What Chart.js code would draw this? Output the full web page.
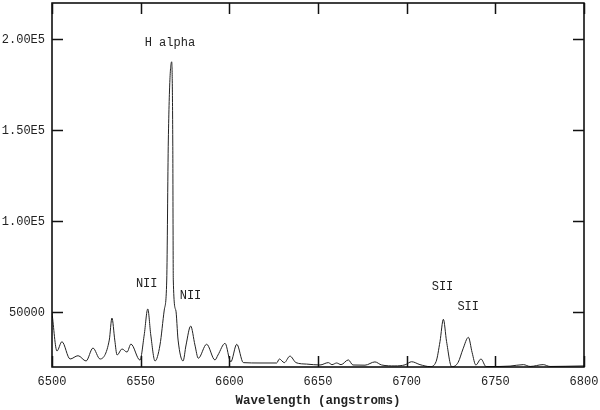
<!DOCTYPE html>
<html>
<head>
<meta charset="utf-8">
<script src="https://cdn.jsdelivr.net/npm/chart.js@4/dist/chart.umd.min.js"></script>
<style>
  html, body { margin: 0; padding: 0; background: #fff; }
  #wrap { width: 600px; height: 410px; }
</style>
</head>
<body>
<div id="wrap"><canvas id="c"></canvas></div>
<script>
// Wavelength (angstroms) and flux values
const wavelengths = [
  6500.0, 6502.8, 6505.6, 6510.2, 6514.7, 6519.2, 6523.1, 6527.1, 6532.3, 6533.8,
  6535.4, 6536.7, 6539.5, 6542.3, 6544.5, 6549.6, 6552.0, 6554.0, 6555.7, 6558.1,
  6560.9, 6563.3, 6564.7, 6565.6, 6567.5, 6568.1, 6568.4, 6569.8, 6571.1, 6573.9,
  6575.6, 6578.2, 6580.6, 6582.5, 6587.2, 6591.9, 6593.6, 6597.6, 6600.8, 6604.2,
  6607.9, 6617.3, 6626.7, 6628.2, 6631.0, 6634.2, 6637.6, 6643.6, 6651.1, 6655.8,
  6657.9, 6660.5, 6663.0, 6667.1, 6669.7, 6676.5, 6682.1, 6685.9, 6693.4, 6699.1,
  6702.8, 6707.5, 6713.2, 6716.6, 6718.8, 6720.7, 6722.5, 6725.4, 6729.0, 6731.8,
  6734.8, 6736.9, 6739.0, 6741.9, 6744.8, 6752.6, 6758.3, 6765.8, 6769.6, 6777.0,
  6780.8, 6789.3, 6800.0
];
const flux = [
  49700, 28800, 33900, 24400, 26200, 23300, 30400, 24400, 34800, 46900,
  34800, 26600, 29900, 28200, 32600, 23800, 37600, 51900, 37600, 23300,
  32100, 51300, 67800, 144700, 187700, 144700, 67800, 51300, 34800, 23300,
  32100, 42500, 32100, 24800, 32500, 23850, 26600, 33000, 22800, 32500,
  22400, 22200, 22200, 24400, 22400, 26000, 22400, 21600, 21100, 22400,
  21300, 22200, 21300, 23900, 21100, 21000, 22800, 21100, 20600, 21200,
  22900, 21300, 20200, 23000, 34000, 46200, 34000, 20100, 22500, 30000,
  36300, 28000, 21100, 24400, 20200, 20300, 20500, 21300, 20300, 21300,
  20300, 20400, 20600
];

const xTickValues = [6500, 6550, 6600, 6650, 6700, 6750, 6800];
const yTickValues = [50000, 100000, 150000, 200000];
const yTickLabels = ["50000", "1.00E5", "1.50E5", "2.00E5"];

const lineLabels = ["H alpha", "NII", "NII", "SII", "SII"];
const lineLabelX = [6566.5, 6553.4, 6578.1, 6720.2, 6734.7];
const lineLabelY = [198200, 65600, 59000, 64100, 53100];

const xTitle = "Wavelength (angstroms)";

const FONT = "'Liberation Mono', 'DejaVu Sans Mono', monospace";

const framePlugin = {
  id: 'frame',
  afterDraw(chart) {
    const { ctx, chartArea: a, scales } = chart;
    const xs = scales.x, ys = scales.y;
    ctx.save();
    ctx.strokeStyle = '#000';
    ctx.lineWidth = 1.5;
    ctx.strokeRect(a.left, a.top, a.right - a.left, a.bottom - a.top);
    ctx.lineWidth = 1.5;
    ctx.strokeStyle = '#111';
    const tl = 11;
    ctx.beginPath();
    xTickValues.forEach(v => {
      const px = Math.round(xs.getPixelForValue(v)) + 0.5;
      ctx.moveTo(px, a.bottom); ctx.lineTo(px, a.bottom - tl);
      ctx.moveTo(px, a.top); ctx.lineTo(px, a.top + tl);
    });
    yTickValues.forEach(v => {
      const py = Math.round(ys.getPixelForValue(v)) + 0.5;
      ctx.moveTo(a.left, py); ctx.lineTo(a.left + tl, py);
      ctx.moveTo(a.right, py); ctx.lineTo(a.right - tl, py);
    });
    ctx.stroke();
    ctx.fillStyle = '#222';
    ctx.font = "12px " + FONT;
    ctx.textAlign = 'center';
    ctx.textBaseline = 'middle';
    lineLabels.forEach((t, i) => {
      ctx.fillText(t, xs.getPixelForValue(lineLabelX[i]), ys.getPixelForValue(lineLabelY[i]));
    });
    ctx.font = "bold 12.5px " + FONT;
    ctx.fillText(xTitle, (a.left + a.right) / 2, 401);
    ctx.restore();
  }
};

new Chart(document.getElementById('c'), {
  type: 'line',
  data: {
    datasets: [{
      data: wavelengths.map((w, i) => ({ x: w, y: flux[i] })),
      borderColor: '#222',
      borderWidth: 1,
      pointRadius: 0,
      fill: false,
      cubicInterpolationMode: 'monotone'
    }]
  },
  options: {
    responsive: true,
    maintainAspectRatio: false,
    animation: false,
    layout: { padding: { top: 3, right: 16, left: 0, bottom: 0 } },
    plugins: { legend: { display: false }, tooltip: { enabled: false } },
    scales: {
      x: {
        type: 'linear',
        min: 6500, max: 6800,
        afterBuildTicks: s => { s.ticks = xTickValues.map(v => ({ value: v })); },
        afterFit: s => { s.height = 43; s.paddingLeft = 0; s.paddingRight = 0; },
        grid: { display: false, drawTicks: false },
        border: { display: false },
        ticks: {
          padding: 8,
          color: '#222',
          font: { family: FONT, size: 12 },
          maxRotation: 0,
          callback: v => String(v)
        }
      },
      y: {
        min: 20000, max: 220000,
        afterBuildTicks: s => { s.ticks = yTickValues.map(v => ({ value: v })); },
        afterFit: s => { s.width = 52; s.paddingTop = 0; s.paddingBottom = 0; },
        grid: { display: false, drawTicks: false },
        border: { display: false },
        ticks: {
          padding: 7,
          color: '#222',
          font: { family: FONT, size: 12 },
          callback: v => yTickLabels[yTickValues.indexOf(v)]
        }
      }
    }
  },
  plugins: [framePlugin]
});
</script>
</body>
</html>
